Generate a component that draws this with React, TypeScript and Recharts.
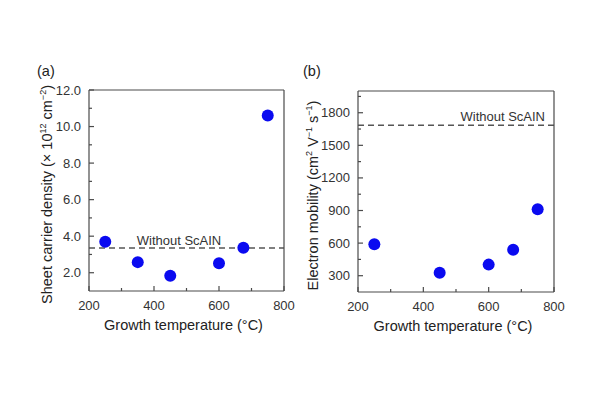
import React from 'react';
import { ScatterChart, Scatter, XAxis, YAxis, ReferenceLine, Label } from 'recharts';

// growth temperature (°C) for each sample
const tempsA = [250, 350, 450, 600, 675, 750];
const densityA = [3.7, 2.58, 1.83, 2.52, 3.37, 10.6];
const densityRefA = 3.35;

const tempsB = [250, 450, 600, 675, 750];
const mobilityB = [590, 328, 402, 538, 912];
const mobilityRefB = 1685;

const tempTicks = [200, 300, 400, 500, 600, 700, 800];
const tempMajor = [200, 400, 600, 800];
const densityTicks = [2, 3, 4, 5, 6, 7, 8, 9, 10, 11, 12];
const densityMajor = [2, 4, 6, 8, 10, 12];
const mobilityTicks = [300, 450, 600, 750, 900, 1050, 1200, 1350, 1500, 1650, 1800, 1950];
const mobilityMajor = [300, 600, 900, 1200, 1500, 1800];

const refLabel = 'Without ScAIN';

const dataA = tempsA.map((t, i) => ({ t, v: densityA[i] }));
const dataB = tempsB.map((t, i) => ({ t, v: mobilityB[i] }));

const FONT = '"Liberation Sans", Arial, sans-serif';
const AXIS = '#4a4a4a';
const DOT = '#0a0af0';

type Side = 'left' | 'right' | 'top' | 'bottom';

// ticks point into the plot box; only major ticks on left/bottom get numbers
function makeTick(side: Side, majors: number[], fmt: (v: number) => string) {
  return (props: any) => {
    const { x, y, payload } = props;
    const v = payload.value;
    const major = majors.includes(v);
    const len = major ? 5 : 3;
    let line;
    if (side === 'left') line = <line x1={x} y1={y} x2={x + len} y2={y} />;
    else if (side === 'right') line = <line x1={x} y1={y} x2={x - len} y2={y} />;
    else if (side === 'top') line = <line x1={x} y1={y} x2={x} y2={y + len} />;
    else line = <line x1={x} y1={y} x2={x} y2={y - len} />;
    return (
      <g>
        <g stroke={AXIS} strokeWidth={1.2}>{line}</g>
        {major && side === 'left' && (
          <text x={x - 8} y={y} dy="0.35em" textAnchor="end" fontSize={13} fill="#333" fontFamily={FONT}>
            {fmt(v)}
          </text>
        )}
        {major && side === 'bottom' && (
          <text x={x} y={y + 14} dy="0.35em" textAnchor="middle" fontSize={13} fill="#333" fontFamily={FONT}>
            {fmt(v)}
          </text>
        )}
      </g>
    );
  };
}

const dot = (p: any) => <circle cx={p.cx} cy={p.cy} r={6} fill={DOT} />;

function XTitle({ viewBox }: any) {
  return (
    <text x={viewBox.x + viewBox.width / 2 - 3} y={viewBox.y + 34} dy="0.35em" textAnchor="middle"
      fontSize={14.5} fill="#222" fontFamily={FONT}>
      Growth temperature (°C)
    </text>
  );
}

function YTitle({ viewBox, dx, children }: any) {
  const cx = viewBox.x + viewBox.width + dx;
  const cy = viewBox.y + viewBox.height / 2 + 4;
  return (
    <text x={cx} y={cy} dy="0.35em" textAnchor="middle" transform={`rotate(-90 ${cx} ${cy})`}
      fontSize={14.5} fill="#222" fontFamily={FONT}>
      {children}
    </text>
  );
}

// superscript followed by the text that comes after it on the baseline
const sup = (s: string, after = ' ') => (
  <>
    <tspan fontSize={9} dy={-6}>{s}</tspan>
    <tspan dy={6}>{after}</tspan>
  </>
);

export default function App() {
  // axes are 1px thick so Recharts still draws them; the plot box sits right on the margins
  const common = { tickSize: 0, tickMargin: 0, interval: 0 as const, tickLine: false, stroke: AXIS, strokeWidth: 1.2 };
  return (
    <div style={{ position: 'absolute', left: 0, top: 0, width: 600, height: 400, background: '#fff', fontFamily: FONT }}>
      <div style={{ position: 'absolute', left: 37, top: 63, fontSize: 14.5, color: '#222' }}>(a)</div>
      <div style={{ position: 'absolute', left: 303, top: 63, fontSize: 14.5, color: '#222' }}>(b)</div>

      <div style={{ position: 'absolute', left: 0, top: 0 }}>
        <ScatterChart width={300} height={400} margin={{ top: 89, right: 15, bottom: 108, left: 88 }}>
          <XAxis xAxisId="b" dataKey="t" type="number" domain={[200, 800]} ticks={tempTicks} height={1}
            {...common} tick={makeTick('bottom', tempMajor, (v) => String(v))}>
            <Label content={<XTitle />} />
          </XAxis>
          <XAxis xAxisId="t" orientation="top" dataKey="t" type="number" domain={[200, 800]} ticks={tempTicks} height={1}
            {...common} tick={makeTick('top', tempMajor, String)} />
          <YAxis yAxisId="l" dataKey="v" type="number" domain={[1, 12]} ticks={densityTicks} width={1}
            {...common} tick={makeTick('left', densityMajor, (v) => v.toFixed(1))}>
            <Label content={(p: any) => (
              <YTitle viewBox={p.viewBox} dx={-42}>
                Sheet carrier density (× 10{sup('12')}cm{sup('−2', ')')}
              </YTitle>
            )} />
          </YAxis>
          <YAxis yAxisId="r" orientation="right" dataKey="v" type="number" domain={[1, 12]} ticks={densityTicks} width={1}
            {...common} tick={makeTick('right', densityMajor, String)} />
          <ReferenceLine xAxisId="b" yAxisId="l" y={densityRefA} stroke="#555" strokeWidth={1.5} strokeDasharray="6 4"
            label={(p: any) => (
              <text x={p.viewBox.x + 90} y={p.viewBox.y - 3} textAnchor="middle" fontSize={13} fill="#333" fontFamily={FONT}>
                {refLabel}
              </text>
            )} />
          <Scatter xAxisId="b" yAxisId="l" data={dataA} shape={dot} isAnimationActive={false} />
        </ScatterChart>
      </div>

      <div style={{ position: 'absolute', left: 300, top: 0 }}>
        <ScatterChart width={300} height={400} margin={{ top: 90, right: 45, bottom: 107, left: 57 }}>
          <XAxis xAxisId="b" dataKey="t" type="number" domain={[200, 800]} ticks={tempTicks} height={1}
            {...common} tick={makeTick('bottom', tempMajor, (v) => String(v))}>
            <Label content={<XTitle />} />
          </XAxis>
          <XAxis xAxisId="t" orientation="top" dataKey="t" type="number" domain={[200, 800]} ticks={tempTicks} height={1}
            {...common} tick={makeTick('top', tempMajor, String)} />
          <YAxis yAxisId="l" dataKey="v" type="number" domain={[150, 2000]} ticks={mobilityTicks} width={1}
            {...common} tick={makeTick('left', mobilityMajor, (v) => String(v))}>
            <Label content={(p: any) => (
              <YTitle viewBox={p.viewBox} dx={-45}>
                Electron mobility (cm{sup('2')}V{sup('−1')}s{sup('−1', ')')}
              </YTitle>
            )} />
          </YAxis>
          <YAxis yAxisId="r" orientation="right" dataKey="v" type="number" domain={[150, 2000]} ticks={mobilityTicks} width={1}
            {...common} tick={makeTick('right', mobilityMajor, String)} />
          <ReferenceLine xAxisId="b" yAxisId="l" y={mobilityRefB} stroke="#555" strokeWidth={1.5} strokeDasharray="6 4"
            label={(p: any) => (
              <text x={p.viewBox.x + p.viewBox.width - 9} y={p.viewBox.y - 4} textAnchor="end" fontSize={13} fill="#333" fontFamily={FONT}>
                {refLabel}
              </text>
            )} />
          <Scatter xAxisId="b" yAxisId="l" data={dataB} shape={dot} isAnimationActive={false} />
        </ScatterChart>
      </div>
    </div>
  );
}
